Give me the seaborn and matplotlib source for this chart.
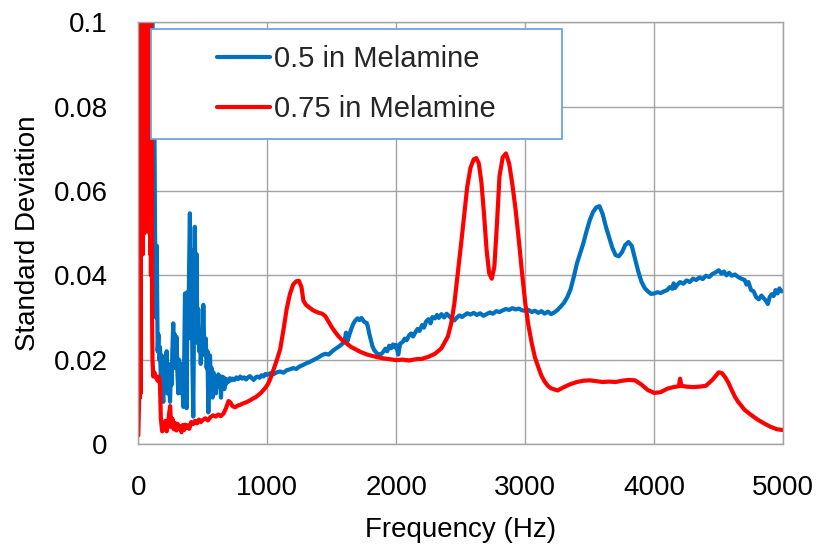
import matplotlib
matplotlib.use("Agg")
import matplotlib.pyplot as plt
from matplotlib.patches import Rectangle
import seaborn as sns

# ---------------- data ----------------
freq_05 = [0, 10, 20, 30, 40, 50, 60, 70, 80, 90, 100, 108, 115, 122, 130, 137, 143, 150, 156, 162,
           168, 175, 182, 188, 194, 200, 207, 213, 220, 226, 233, 240, 246, 252, 258, 264, 271, 277, 283, 290,
           297, 303, 310, 316, 323, 330, 336, 342, 349, 355, 362, 368, 375, 381, 388, 394, 400, 406, 413, 419,
           426, 432, 438, 445, 452, 458, 465, 471, 478, 484, 491, 497, 504, 510, 517, 523, 530, 536, 543, 549,
           556, 562, 569, 575, 582, 588, 595, 601, 608, 615, 621, 628, 634, 641, 647, 654, 660, 667, 673, 680,
           690, 700, 710, 720, 730, 745, 760, 775, 790, 805, 820, 835, 850, 865, 880, 895, 910, 925, 940, 955,
           970, 985, 1000, 1025, 1050, 1075, 1100, 1125, 1150, 1175, 1200, 1225, 1250, 1275, 1300, 1325, 1350, 1375, 1400, 1425,
           1450, 1475, 1500, 1525, 1550, 1575, 1590, 1600, 1610, 1620, 1635, 1650, 1665, 1680, 1700, 1715, 1730, 1750, 1770, 1780,
           1790, 1800, 1815, 1830, 1850, 1870, 1885, 1900, 1915, 1930, 1945, 1960, 1975, 1990, 2000, 2015, 2030, 2050, 2065, 2080,
           2100, 2115, 2130, 2150, 2165, 2180, 2200, 2215, 2230, 2250, 2265, 2280, 2300, 2315, 2330, 2350, 2370, 2390, 2410, 2430,
           2450, 2470, 2490, 2510, 2530, 2550, 2575, 2600, 2625, 2650, 2675, 2700, 2725, 2750, 2775, 2800, 2825, 2850, 2875, 2900,
           2925, 2950, 2975, 3000, 3025, 3050, 3075, 3100, 3125, 3150, 3175, 3200, 3225, 3250, 3275, 3300, 3325, 3350, 3375, 3400,
           3425, 3450, 3475, 3500, 3525, 3550, 3575, 3600, 3625, 3650, 3675, 3700, 3725, 3750, 3775, 3800, 3825, 3850, 3875, 3900,
           3925, 3950, 3975, 4000, 4025, 4050, 4075, 4100, 4120, 4140, 4150, 4160, 4180, 4200, 4225, 4250, 4275, 4300, 4325, 4350,
           4375, 4400, 4425, 4450, 4475, 4500, 4520, 4540, 4560, 4580, 4600, 4625, 4650, 4675, 4700, 4715, 4730, 4750, 4770, 4790,
           4810, 4830, 4850, 4870, 4880, 4895, 4910, 4925, 4940, 4955, 4970, 4985, 5000]
sd_05 = [0.010, 0.030, 0.070, 0.050, 0.090, 0.060, 0.110, 0.070, 0.120, 0.080, 0.110, 0.120, 0.070, 0.090, 0.050, 0.030, 0.047, 0.022, 0.026, 0.020,
         0.023, 0.015, 0.021, 0.012, 0.010, 0.016, 0.013, 0.019, 0.022, 0.012, 0.019, 0.014, 0.010, 0.017, 0.014, 0.022, 0.0286, 0.018, 0.026, 0.020,
         0.0254, 0.017, 0.012, 0.020, 0.016, 0.019, 0.012, 0.014, 0.0088, 0.018, 0.0357, 0.020, 0.0085, 0.036, 0.025, 0.042, 0.0547, 0.030, 0.046, 0.020,
         0.0065, 0.030, 0.0515, 0.035, 0.045, 0.024, 0.032, 0.022, 0.027, 0.019, 0.024, 0.022, 0.033, 0.025, 0.021, 0.025, 0.018, 0.022, 0.0075, 0.019,
         0.021, 0.015, 0.018, 0.011, 0.017, 0.014, 0.0155, 0.012, 0.016, 0.0135, 0.0165, 0.014, 0.0155, 0.011, 0.016, 0.014, 0.0158, 0.013, 0.0155, 0.0142,
         0.0153, 0.0148, 0.0156, 0.0151, 0.0155, 0.0152, 0.0158, 0.0154, 0.0160, 0.0155, 0.0158, 0.0153, 0.0158, 0.0161, 0.0156, 0.0152, 0.0158, 0.0160, 0.0157, 0.0163,
         0.0160, 0.0166, 0.0164, 0.0168, 0.0166, 0.0170, 0.0172, 0.0169, 0.0175, 0.0177, 0.0180, 0.0178, 0.0184, 0.0187, 0.0191, 0.0194, 0.0198, 0.0202, 0.0206, 0.0211,
         0.0214, 0.0212, 0.0219, 0.0225, 0.0230, 0.0236, 0.0240, 0.0246, 0.0264, 0.0243, 0.0258, 0.0272, 0.0284, 0.0292, 0.0298, 0.0294, 0.0299, 0.0290, 0.0287, 0.0278,
         0.0262, 0.0250, 0.0232, 0.0222, 0.0215, 0.0211, 0.0214, 0.0219, 0.0226, 0.0220, 0.0233, 0.0227, 0.0236, 0.0229, 0.0235, 0.0212, 0.0238, 0.0242, 0.0250, 0.0246,
         0.0258, 0.0262, 0.0255, 0.0266, 0.0273, 0.0268, 0.0282, 0.0276, 0.0290, 0.0296, 0.0286, 0.0301, 0.0298, 0.0306, 0.0299, 0.0308, 0.0300, 0.0309, 0.0303, 0.0297,
         0.0293, 0.0300, 0.0305, 0.0301, 0.0306, 0.0310, 0.0307, 0.0311, 0.0306, 0.0310, 0.0304, 0.0308, 0.0312, 0.0309, 0.0315, 0.0313, 0.0317, 0.0320, 0.0318, 0.0322,
         0.0319, 0.0321, 0.0317, 0.0316, 0.0318, 0.0313, 0.0316, 0.0311, 0.0315, 0.0309, 0.0314, 0.0308, 0.0312, 0.0318, 0.0326, 0.0335, 0.0348, 0.0366, 0.0395, 0.0428,
         0.0452, 0.0476, 0.0505, 0.0531, 0.0550, 0.0561, 0.0564, 0.0545, 0.0515, 0.0490, 0.0465, 0.0448, 0.0445, 0.0455, 0.0472, 0.0479, 0.0470, 0.0440, 0.0410, 0.0385,
         0.0370, 0.0362, 0.0356, 0.0357, 0.0360, 0.0358, 0.0362, 0.0365, 0.0372, 0.0368, 0.0381, 0.0370, 0.0378, 0.0384, 0.0380, 0.0388, 0.0384, 0.0392, 0.0389, 0.0395,
         0.0391, 0.0399, 0.0396, 0.0403, 0.0407, 0.0412, 0.0404, 0.0409, 0.0400, 0.0406, 0.0399, 0.0402, 0.0396, 0.0392, 0.0389, 0.0378, 0.0384, 0.0365, 0.0362, 0.0348,
         0.0343, 0.0352, 0.0345, 0.0338, 0.0332, 0.0349, 0.0355, 0.0351, 0.0365, 0.0357, 0.0369, 0.0362, 0.0363]

freq_075 = [0, 6, 10, 13, 16, 18, 21, 24, 27, 30, 33, 36, 39, 42, 45, 48, 52, 55, 58, 62,
            66, 70, 74, 78, 82, 85, 88, 92, 95, 98, 101, 104, 107, 110, 116, 125,
            135, 150, 160, 168, 175, 185, 195, 200, 210, 220, 230, 240, 247, 255, 265, 275, 285, 295, 305, 315,
            325, 335, 345, 355, 365, 375, 385, 395, 410, 425, 440, 455, 470, 485, 500, 520, 540, 560, 580, 600,
            620, 640, 660, 680, 700, 715, 730, 750, 770, 790, 810, 830, 850, 870, 890, 910, 930, 950, 970, 990,
            1010, 1030, 1050, 1075, 1100, 1125, 1150, 1175, 1200, 1225, 1245, 1265, 1280, 1300, 1325, 1350, 1375, 1400, 1425, 1450,
            1475, 1500, 1525, 1550, 1575, 1600, 1625, 1650, 1675, 1700, 1725, 1750, 1775, 1800, 1850, 1900, 1950, 2000, 2050, 2100,
            2150, 2200, 2250, 2300, 2350, 2400, 2425, 2450, 2475, 2500, 2525, 2550, 2575, 2600, 2620, 2640, 2660, 2680, 2700, 2720,
            2740, 2760, 2780, 2800, 2825, 2850, 2875, 2900, 2925, 2950, 2975, 3000, 3025, 3050, 3075, 3100, 3125, 3150, 3175, 3200,
            3250, 3300, 3350, 3400, 3450, 3500, 3550, 3600, 3650, 3700, 3750, 3800, 3850, 3900, 3950, 4000, 4050, 4100, 4150, 4190,
            4200, 4210, 4250, 4300, 4350, 4400, 4450, 4500, 4525, 4550, 4575, 4600, 4625, 4650, 4700, 4750, 4800, 4850, 4900, 4950,
            5000]
sd_075 = [0.002, 0.010, 0.046, 0.011, 0.060, 0.012, 0.120, 0.055, 0.130, 0.070, 0.125, 0.045, 0.135, 0.060, 0.115, 0.050, 0.140, 0.065, 0.120, 0.055,
          0.125, 0.080, 0.140, 0.060, 0.110, 0.050, 0.130, 0.045, 0.105, 0.040, 0.090, 0.060, 0.030, 0.020, 0.016, 0.017,
          0.016, 0.015, 0.016, 0.014, 0.006, 0.003, 0.004, 0.0035, 0.0055, 0.003, 0.0045, 0.0075, 0.009, 0.004, 0.006, 0.0035, 0.005, 0.0032, 0.0048, 0.0036,
          0.0042, 0.0028, 0.0045, 0.0033, 0.0046, 0.0038, 0.0044, 0.0036, 0.0052, 0.0047, 0.0055, 0.0049, 0.0058, 0.0052, 0.0057, 0.0061, 0.0056, 0.0064, 0.0068, 0.0065,
          0.0070, 0.0066, 0.0072, 0.0085, 0.0102, 0.0098, 0.0090, 0.0087, 0.0091, 0.0093, 0.0096, 0.0098, 0.0101, 0.0104, 0.0108, 0.0111, 0.0116, 0.0121, 0.0128, 0.0135,
          0.0145, 0.0160, 0.0178, 0.0200, 0.0225, 0.0270, 0.0320, 0.0355, 0.0378, 0.0386, 0.0387, 0.0372, 0.0340, 0.0330, 0.0324, 0.0318, 0.0314, 0.0311, 0.0309, 0.0303,
          0.0290, 0.0277, 0.0266, 0.0256, 0.0248, 0.0242, 0.0236, 0.0230, 0.0226, 0.0222, 0.0218, 0.0215, 0.0212, 0.0210, 0.0206, 0.0203, 0.0201, 0.0199, 0.0200, 0.0198,
          0.0201, 0.0202, 0.0207, 0.0214, 0.0227, 0.0255, 0.0285, 0.0333, 0.0400, 0.0468, 0.0540, 0.0610, 0.0655, 0.0675, 0.0678, 0.0665, 0.0620, 0.0545, 0.0460, 0.0405,
          0.0392, 0.0420, 0.0520, 0.0635, 0.0680, 0.0689, 0.0665, 0.0615, 0.0555, 0.0483, 0.0405, 0.0333, 0.0280, 0.0239, 0.0205, 0.0183, 0.0162, 0.0148, 0.0138, 0.0132,
          0.0127, 0.0135, 0.0142, 0.0147, 0.0150, 0.0151, 0.0149, 0.0147, 0.0148, 0.0147, 0.0150, 0.0152, 0.0151, 0.0141, 0.0128, 0.0121, 0.0123, 0.0131, 0.0135, 0.0137,
          0.0155, 0.0138, 0.0136, 0.0135, 0.0136, 0.0138, 0.0152, 0.0170, 0.0168, 0.0158, 0.0145, 0.0128, 0.0112, 0.0100, 0.0081, 0.0069, 0.0058, 0.0049, 0.0041, 0.0035,
          0.0033]

series_labels = ["0.5 in Melamine", "0.75 in Melamine"]
x_ticks = [0, 1000, 2000, 3000, 4000, 5000]
y_ticks = [0, 0.02, 0.04, 0.06, 0.08, 0.1]
y_tick_labels = ["0", "0.02", "0.04", "0.06", "0.08", "0.1"]

# ---------------- style ----------------
sns.set_theme(style="white")
plt.rcParams['font.family'] = ['Liberation Sans', 'DejaVu Sans']

BLUE = "#0070C0"
RED = "#FF0000"
GRID = "#A3A3A3"

fig = plt.figure(figsize=(8.19, 5.48), dpi=100)
ax = fig.add_axes([138.3 / 819, 1 - 444 / 548, 645 / 819, 421.7 / 548])

sns.lineplot(x=freq_05, y=sd_05, ax=ax, color=BLUE, linewidth=3.0, estimator=None, sort=False,
             label=series_labels[0], legend=False)
sns.lineplot(x=freq_075, y=sd_075, ax=ax, color=RED, linewidth=3.0, estimator=None, sort=False,
             label=series_labels[1], legend=False)

ax.set_xlim(0, 5000)
ax.set_ylim(0, 0.1)
ax.set_xticks(x_ticks)
ax.set_xticklabels([str(t) for t in x_ticks])
ax.set_yticks(y_ticks)
ax.set_yticklabels(y_tick_labels)
ax.tick_params(axis='both', length=0, labelsize=20, colors='black', pad=22)

ax.set_axisbelow(True)
ax.grid(True, color=GRID, linewidth=1.0)
for s in ax.spines.values():
    s.set_color(GRID)
    s.set_linewidth(1.0)

ax.set_xlabel("Frequency (Hz)", fontsize=20, labelpad=12, color='black')
ax.set_ylabel("Standard Deviation", fontsize=20, labelpad=9, color='black')

# legend box
x0, x1 = 12.4 / 645, 424.0 / 645
y0, y1 = (444 - 139.3) / 421.7, (444 - 29.3) / 421.7
rect = Rectangle((x0, y0), x1 - x0, y1 - y0, transform=ax.transAxes, facecolor='white',
                 edgecolor='#6FA5DC', linewidth=1.3, zorder=4, clip_on=False)
ax.add_patch(rect)
handles, labels = ax.get_legend_handles_labels()
leg = ax.legend(handles, labels, loc='center', bbox_to_anchor=((x0 + x1) / 2, (y0 + y1) / 2),
                bbox_transform=ax.transAxes, frameon=False, fontsize=21, handlelength=1.83,
                handletextpad=0.15, labelspacing=0.75, borderpad=0)
leg.set_zorder(5)

fig.savefig("out.png", dpi=100)
